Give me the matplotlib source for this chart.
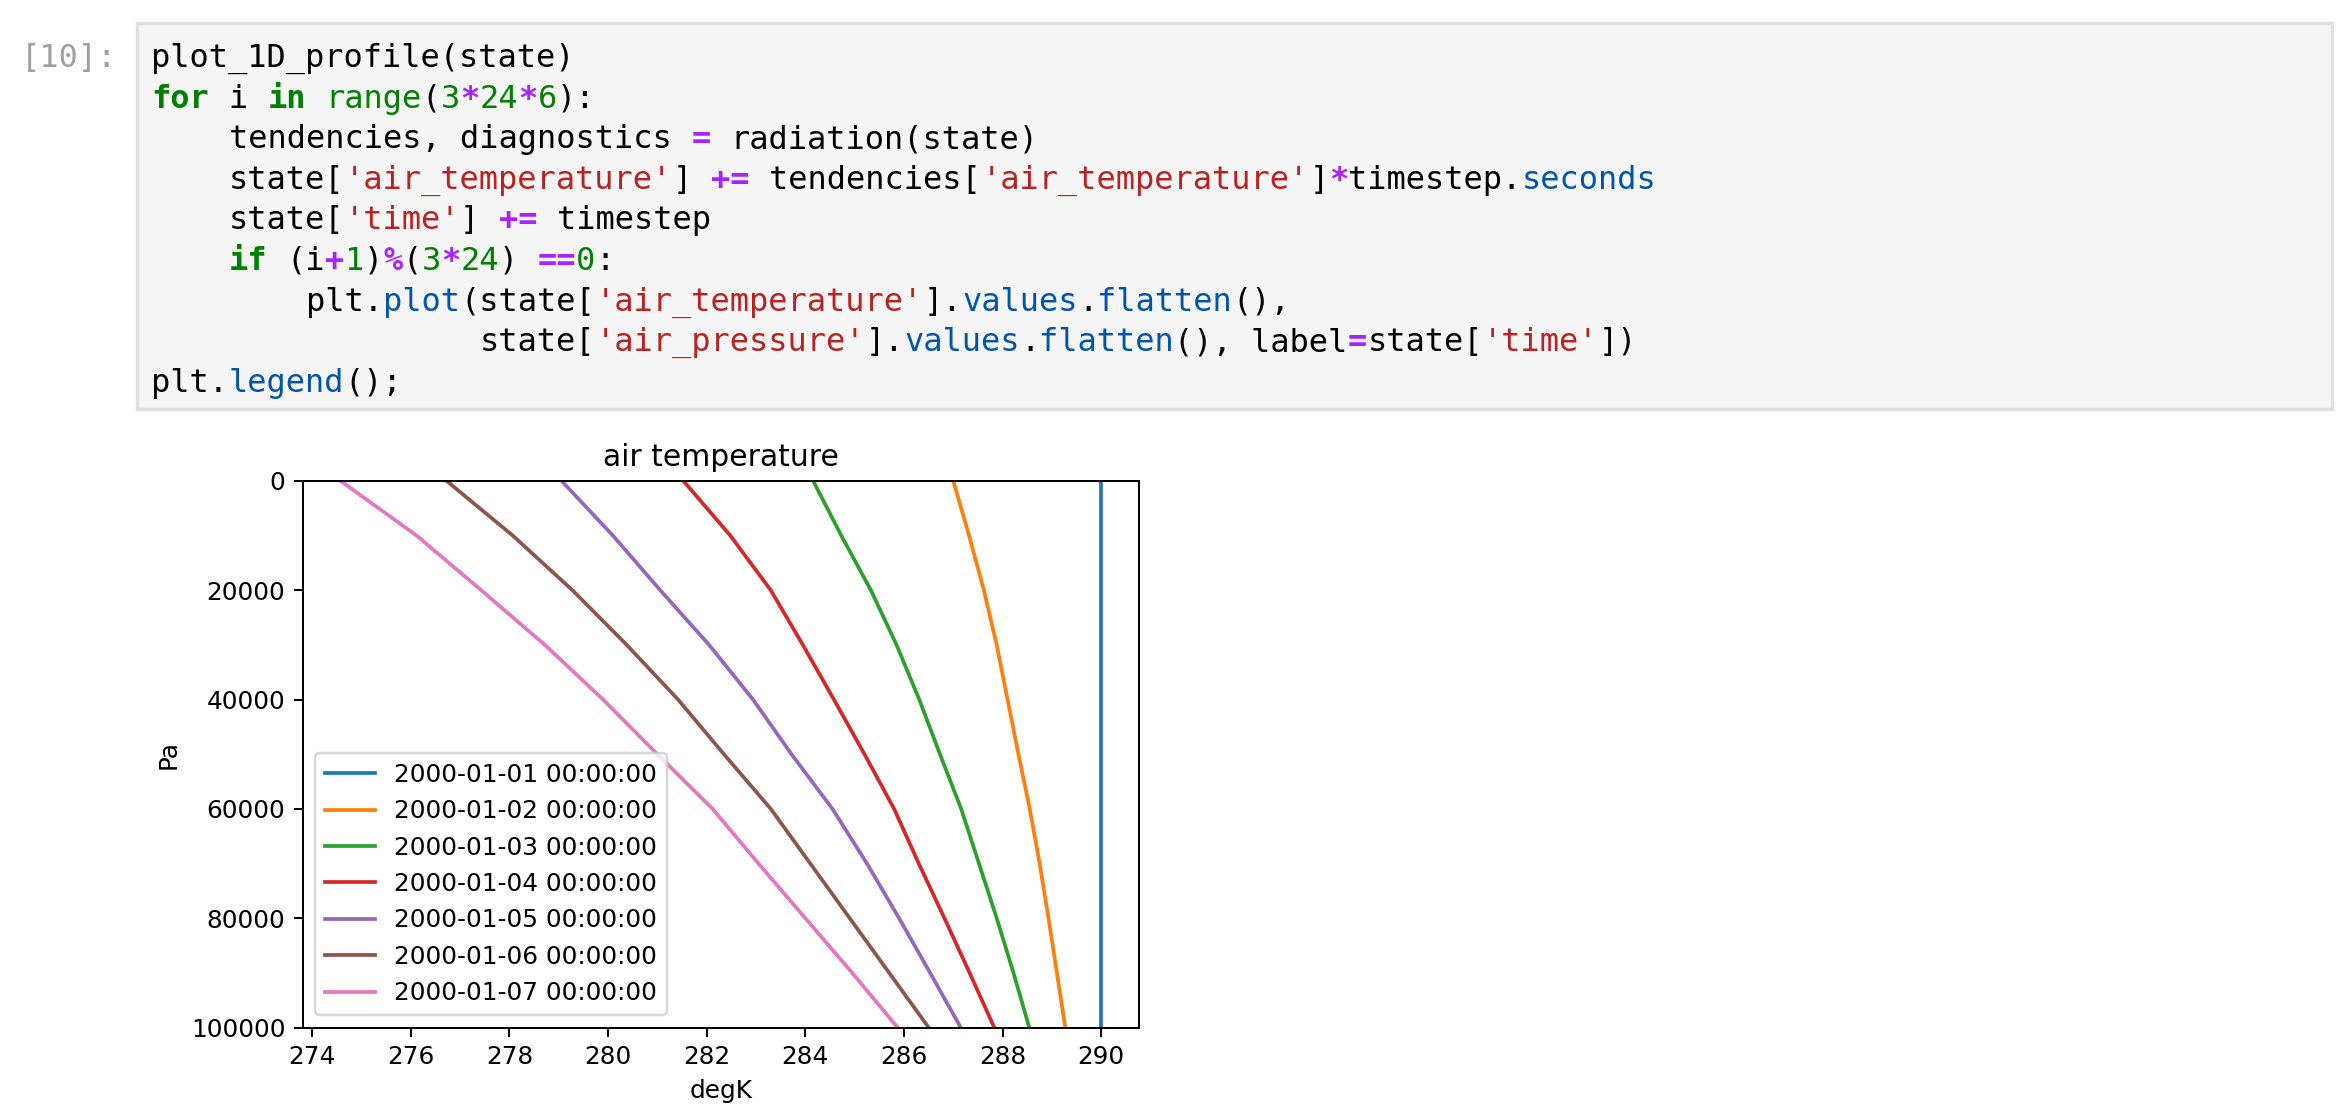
import matplotlib
matplotlib.use("Agg")
import matplotlib.pyplot as plt
from matplotlib.patches import Rectangle

# ---------------- data ----------------
pressure = [0, 10000, 20000, 30000, 40000, 50000, 60000, 70000, 80000, 90000, 100000]
t_day1 = [290.0, 290.0, 290.0, 290.0, 290.0, 290.0, 290.0, 290.0, 290.0, 290.0, 290.0]
t_day2 = [287.00, 287.32, 287.62, 287.88, 288.10, 288.32, 288.55, 288.75, 288.93, 289.10, 289.27]
t_day3 = [284.16, 284.73, 285.33, 285.85, 286.31, 286.73, 287.16, 287.52, 287.88, 288.22, 288.54]
t_day4 = [281.53, 282.48, 283.30, 283.95, 284.58, 285.20, 285.80, 286.30, 286.82, 287.33, 287.83]
t_day5 = [279.06, 280.10, 281.06, 282.05, 282.94, 283.72, 284.55, 285.25, 285.90, 286.53, 287.15]
t_day6 = [276.73, 278.07, 279.28, 280.38, 281.42, 282.35, 283.30, 284.10, 284.90, 285.70, 286.50]
t_day7 = [274.58, 276.12, 277.43, 278.72, 279.90, 281.00, 282.12, 283.05, 284.00, 284.95, 285.87]
series = [t_day1, t_day2, t_day3, t_day4, t_day5, t_day6, t_day7]
labels = ["2000-01-01 00:00:00", "2000-01-02 00:00:00", "2000-01-03 00:00:00",
          "2000-01-04 00:00:00", "2000-01-05 00:00:00", "2000-01-06 00:00:00",
          "2000-01-07 00:00:00"]
title = "air temperature"
xlabel = "degK"
ylabel = "Pa"
yticks = [0, 20000, 40000, 60000, 80000, 100000]
xticks = [274, 276, 278, 280, 282, 284, 286, 288, 290]

prompt = "[10]:"
code_lines = [
    [("plot_1D_profile(state)", "n")],
    [("for", "kw"), (" i ", "n"), ("in", "kw"), (" ", "n"), ("range", "bi"), ("(", "n"),
     ("3", "num"), ("*", "op"), ("24", "num"), ("*", "op"), ("6", "num"), ("):", "n")],
    [("    tendencies, diagnostics ", "n"), ("=", "op"), (" radiation(state)", "n")],
    [("    state[", "n"), ("'air_temperature'", "str"), ("] ", "n"), ("+=", "op"),
     (" tendencies[", "n"), ("'air_temperature'", "str"), ("]", "n"), ("*", "op"),
     ("timestep.", "n"), ("seconds", "prop")],
    [("    state[", "n"), ("'time'", "str"), ("] ", "n"), ("+=", "op"), (" timestep", "n")],
    [("    ", "n"), ("if", "kw"), (" (i", "n"), ("+", "op"), ("1", "num"), (")", "n"),
     ("%", "op"), ("(", "n"), ("3", "num"), ("*", "op"), ("24", "num"), (") ", "n"),
     ("==", "op"), ("0", "num"), (":", "n")],
    [("        plt.", "n"), ("plot", "prop"), ("(state[", "n"), ("'air_temperature'", "str"),
     ("].", "n"), ("values", "prop"), (".", "n"), ("flatten", "prop"), ("(),", "n")],
    [("                 state[", "n"), ("'air_pressure'", "str"), ("].", "n"),
     ("values", "prop"), (".", "n"), ("flatten", "prop"), ("(), label", "n"),
     ("=", "op"), ("state[", "n"), ("'time'", "str"), ("])", "n")],
    [("plt.", "n"), ("legend", "prop"), ("();", "n")],
]

# ---------------- layout ----------------
W, H = 2346, 1108
D = 178.56
fig = plt.figure(figsize=(W / D, H / D), dpi=D)
fig.patch.set_facecolor("white")

def fx(x):
    return x / W

def fy(y):
    return 1 - y / H

styles = {
    "n": dict(color="#000000", fontweight="normal"),
    "kw": dict(color="#008000", fontweight="bold"),
    "bi": dict(color="#008000", fontweight="normal"),
    "num": dict(color="#008000", fontweight="normal"),
    "op": dict(color="#AA22FF", fontweight="bold"),
    "str": dict(color="#BA2121", fontweight="normal"),
    "prop": dict(color="#0055AA", fontweight="normal"),
}

# code cell box
fig.patches.append(Rectangle((fx(137), fy(409)), fx(2332) - fx(137), fy(23) - fy(409),
                             transform=fig.transFigure, facecolor="#f5f5f5",
                             edgecolor="#e0e0e0", linewidth=1.4, zorder=0))

cw = 19.3
fs = cw / 0.6021 * 72 / D
x0 = 151.5
base0 = 67
lh = 40.6
mono = "DejaVu Sans Mono"

fig.text(fx(117), fy(base0), prompt, ha="right", va="baseline", family=mono,
         fontsize=fs, color="#a0a0a0")

for li, toks in enumerate(code_lines):
    col = 0
    yb = base0 + li * lh
    for txt, st in toks:
        stripped = txt.lstrip(" ")
        lead = len(txt) - len(stripped)
        if stripped:
            fig.text(fx(x0 + (col + lead) * cw), fy(yb), stripped, ha="left",
                     va="baseline", family=mono, fontsize=fs, **styles[st])
        col += len(txt)

# ---------------- plot ----------------
left, right, top, bottom = 302.7, 1139.3, 481, 1027.5
ax = fig.add_axes([fx(left), fy(bottom), fx(right) - fx(left), fy(top) - fy(bottom)])
for vals, lab in zip(series, labels):
    ax.plot(vals, pressure, label=lab)
ax.set_ylim(100000, 0)
ax.set_yticks(yticks)
ax.set_xticks(xticks)
ax.set_title(title)
ax.set_xlabel(xlabel)
ax.set_ylabel(ylabel)
ax.legend(loc="lower left")

fig.savefig("out.png", dpi=D, facecolor="white")
